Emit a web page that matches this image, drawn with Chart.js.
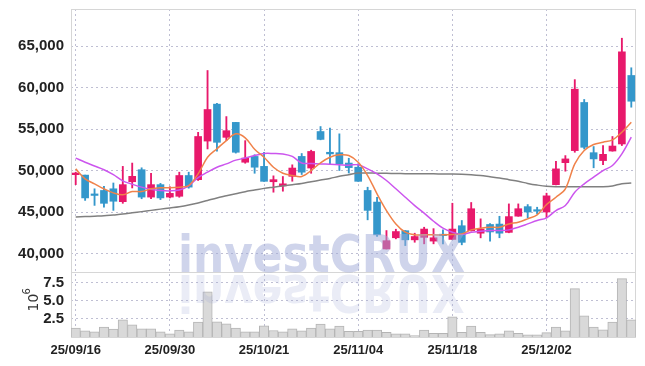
<!DOCTYPE html>
<html lang="en">
<head>
<meta charset="utf-8" />
<title>investCRUX daily chart</title>
<script src="https://cdn.jsdelivr.net/npm/chart.js@4.4.1/dist/chart.umd.min.js"></script>
<style>
  html, body { margin: 0; padding: 0; background: #fff; }
</style>
</head>
<body>
<canvas id="myChart" width="645" height="366"></canvas>

<script>
	var dates = [
		"25/09/16", "25/09/17", "25/09/18", "25/09/19", "25/09/22", "25/09/23", "25/09/24", "25/09/25", "25/09/26", "25/09/29",
		"25/09/30", "25/10/01", "25/10/02", "25/10/10", "25/10/13", "25/10/14", "25/10/15", "25/10/16", "25/10/17", "25/10/20",
		"25/10/21", "25/10/22", "25/10/23", "25/10/24", "25/10/27", "25/10/28", "25/10/29", "25/10/30", "25/10/31", "25/11/03",
		"25/11/04", "25/11/05", "25/11/06", "25/11/07", "25/11/10", "25/11/11", "25/11/12", "25/11/13", "25/11/14", "25/11/17",
		"25/11/18", "25/11/19", "25/11/20", "25/11/21", "25/11/24", "25/11/25", "25/11/26", "25/11/27", "25/11/28", "25/12/01",
		"25/12/02", "25/12/03", "25/12/04", "25/12/05", "25/12/08", "25/12/09", "25/12/10", "25/12/11", "25/12/12", "25/12/15"
	];

	var openP = [
		49500, 49450, 47100, 47600, 47800, 46250, 48650, 50100, 46800, 48300,
		46800, 46900, 49400, 48900, 53550, 58000, 54000, 55800, 51000, 51700,
		50500, 48650, 48150, 49300, 51700, 50300, 54700, 52200, 52150, 50900,
		50400, 47600, 46200, 40550, 41900, 42750, 41650, 41950, 41500, 42250,
		41700, 43350, 42750, 42450, 43500, 43550, 42550, 44500, 45650, 45200,
		45000, 48300, 50950, 52400, 58200, 52150, 51200, 52350, 53200, 61450
	];
	var highP = [
		49800, 49450, 47800, 48100, 48500, 50500, 50900, 50330, 49650, 48450,
		48050, 49800, 49800, 54600, 62050, 58100, 56500, 55800, 53600, 51900,
		52200, 49360, 49280, 50690, 52050, 52450, 55300, 55100, 54420, 51480,
		50810, 47990, 46780, 42770, 42930, 42770, 42450, 43170, 43000, 42850,
		46060, 43980, 46150, 44180, 43600, 44490, 45980, 45980, 45900, 45580,
		47270, 51120, 51800, 60950, 58560, 52890, 53010, 54100, 65940, 62380
	];
	var lowP = [
		48300, 46400, 45800, 45600, 45200, 46050, 47900, 46600, 46600, 46500,
		46700, 46780, 47870, 48800, 52600, 52330, 53600, 52100, 50880, 49670,
		48680, 47390, 47510, 48710, 49520, 49670, 53700, 50720, 50000, 49700,
		48700, 44060, 42050, 40550, 41770, 40960, 41360, 41170, 41170, 41170,
		41690, 41050, 42700, 41890, 41480, 41900, 42500, 44490, 44300, 44780,
		44300, 48280, 49920, 52200, 52600, 50330, 50720, 52330, 53010, 57630
	];
	var closeP = [
		49700, 46700, 47000, 46050, 46300, 48300, 49300, 46800, 48300, 46700,
		47250, 49400, 48000, 54100, 57350, 53400, 54800, 52200, 51500, 50400,
		48700, 48900, 48400, 50300, 49800, 52300, 53750, 52000, 50800, 50350,
		48700, 45200, 42250, 41550, 42650, 41650, 42050, 42950, 41900, 42150,
		42950, 41350, 45400, 42950, 42600, 42450, 44450, 45400, 45000, 45100,
		46950, 50200, 51400, 59800, 52800, 51400, 51950, 52950, 64300, 58350
	];

	// moving averages
	var ma5 = [
		50200, 49000, 48400, 47800, 47310, 47070, 47470, 47470, 47800, 47920,
		47920, 47990, 48190, 49600, 51600, 52620, 53610, 54420, 53940, 52560,
		51600, 50400, 49670, 49400, 49280, 50000, 50930, 51600, 51890, 51810,
		51000, 49400, 47190, 45180, 43570, 42570, 42250, 42250, 42250, 42250,
		42290, 42370, 42850, 43050, 43170, 43170, 43570, 43770, 44180, 44660,
		45900, 46780, 47800, 50810, 52410, 53130, 53410, 53700, 54620, 55820
	];
	var ma20 = [
		51500, 51000, 50550, 50100, 49500, 48750, 48350, 48000, 47750, 47600,
		47550, 47650, 48150, 49150, 49800, 50400, 50800, 51250, 51500, 51800,
		52050, 52050, 52000, 51700, 50900, 50850, 50800, 50750, 50700, 50650,
		50690, 50200, 49600, 48800, 47800, 46780, 45780, 44860, 43890, 43050,
		42570, 42290, 42570, 42690, 42770, 42770, 42850, 43170, 43570, 43980,
		44300, 45180, 45780, 47390, 48400, 49200, 50000, 50600, 52000, 54020
	];
	var ma60 = [
		44400, 44450, 44500, 44550, 44650, 44750, 44900, 45050, 45200, 45350,
		45500, 45650, 45850, 46100, 46400, 46700, 46950, 47200, 47450, 47650,
		47850, 48000, 48150, 48300, 48450, 48650, 48850, 49050, 49300, 49500,
		49700, 49700, 49680, 49660, 49640, 49620, 49600, 49600, 49600, 49580,
		49580, 49560, 49500, 49400, 49250, 49100, 48900, 48700, 48450, 48250,
		48100, 48050, 48050, 48050, 48050, 48050, 48050, 48150, 48400, 48500
	];

	// volume in millions of shares
	var volume = [
		1.23, 0.86, 0.72, 1.37, 1.09, 2.36, 1.68, 1.13, 1.13, 0.72,
		0.45, 0.96, 0.72, 2.05, 6.23, 2.09, 1.82, 1.23, 0.72, 0.72,
		1.54, 0.90, 0.72, 1.13, 0.86, 1.23, 1.77, 1.13, 1.50, 0.77,
		0.77, 0.96, 0.96, 0.63, 0.45, 0.45, 0.18, 0.96, 0.50, 0.50,
		2.77, 0.63, 1.50, 0.63, 0.32, 0.45, 0.86, 0.50, 0.30, 0.30,
		0.60, 1.37, 0.86, 6.69, 2.91, 1.37, 1.00, 2.05, 8.06, 2.36
	];

	var priceTicks = [40000, 45000, 50000, 55000, 60000, 65000];
	var volumeTicks = [2.5, 5.0, 7.5];

	var upColor = "#e8196b";
	var downColor = "#3497cb";
	var gridColor = "rgba(175, 175, 200, 0.8)";
	var frameColor = "#d6d6d6";
	var yFont = { family: "'Liberation Sans', Arial, sans-serif", size: 15, weight: "bold" };
	var xFont = { family: "'Liberation Sans', Arial, sans-serif", size: 13, weight: "bold" };

	var bodies = [];
	var wicks = [];
	var candleColors = [];
	for (var i = 0; i < dates.length; i++) {
		bodies.push([openP[i], closeP[i]]);
		wicks.push([lowP[i], highP[i]]);
		candleColors.push(closeP[i] >= openP[i] ? upColor : downColor);
	}

	function noPad(s) {
		s.width = 71;
		s.paddingTop = 0;
		s.paddingBottom = 0;
	}

	// light frame round both panels
	var framePlugin = {
		id: "frame",
		beforeDatasetsDraw: function (chart) {
			var ctx = chart.ctx;
			var a = chart.chartArea;
			var yP = chart.scales.y;
			ctx.save();
			ctx.strokeStyle = frameColor;
			ctx.lineWidth = 1;
			ctx.strokeRect(Math.round(a.left) + 0.5, Math.round(a.top) + 0.5, Math.round(a.right - a.left) - 1, Math.round(a.bottom - a.top));
			ctx.beginPath();
			ctx.moveTo(a.left, Math.round(yP.bottom) + 0.5);
			ctx.lineTo(a.right, Math.round(yP.bottom) + 0.5);
			ctx.stroke();
			ctx.restore();
		}
	};

	var watermark = {
		id: "watermark",
		afterDatasetsDraw: function (chart) {
			var ctx = chart.ctx;
			var text = "investCRUX";
			var base = chart.scales.y.bottom;
			ctx.save();
			ctx.font = "bold 52px 'DejaVu Sans'";
			var sx = 287 / ctx.measureText(text).width;
			ctx.translate(178, base);
			ctx.scale(sx, 1);
			ctx.fillStyle = "rgba(160, 170, 215, 0.5)";
			ctx.fillText(text, 0, 0);
			ctx.scale(1, -1);
			ctx.fillStyle = "rgba(160, 170, 215, 0.22)";
			ctx.fillText(text, 0, -3);
			ctx.restore();
		},
		afterDraw: function (chart) {
			var ctx = chart.ctx;
			var yV = chart.scales.yVol;
			ctx.save();
			ctx.translate(38, (yV.top + yV.bottom) / 2 - 2);
			ctx.rotate(-Math.PI / 2);
			ctx.fillStyle = "#333";
			ctx.textBaseline = "alphabetic";
			ctx.textAlign = "left";
			ctx.font = "14px 'DejaVu Sans'";
			ctx.fillText("10", -9, 0);
			ctx.font = "10px 'DejaVu Sans'";
			ctx.fillText("6", 8, -8);
			ctx.restore();
		}
	};

	var ctx = document.getElementById("myChart").getContext("2d");
	var myChart = new Chart(ctx, {
		type: "bar",
		data: {
			labels: dates,
			datasets: [
				{
					type: "line",
					label: "MA5",
					data: ma5,
					yAxisID: "y",
					borderColor: "#f0824a",
					borderWidth: 1.5,
					pointRadius: 0,
					tension: 0.35,
					order: 0
				},
				{
					type: "line",
					label: "MA20",
					data: ma20,
					yAxisID: "y",
					borderColor: "#cc55ee",
					borderWidth: 1.5,
					pointRadius: 0,
					tension: 0.35,
					order: 1
				},
				{
					type: "line",
					label: "MA60",
					data: ma60,
					yAxisID: "y",
					borderColor: "#808080",
					borderWidth: 1.5,
					pointRadius: 0,
					tension: 0.35,
					order: 2
				},
				{
					label: "body",
					data: bodies,
					yAxisID: "y",
					backgroundColor: candleColors,
					barThickness: 7,
					minBarLength: 1.5,
					grouped: false,
					order: 3
				},
				{
					label: "wick",
					data: wicks,
					yAxisID: "y",
					backgroundColor: candleColors,
					barThickness: 1.2,
					grouped: false,
					order: 4
				},
				{
					label: "volume",
					data: volume,
					yAxisID: "yVol",
					backgroundColor: "#d9d9d9",
					borderColor: "#b5b5b5",
					borderWidth: 1,
					barPercentage: 1,
					categoryPercentage: 1,
					grouped: false,
					order: 5
				}
			]
		},
		options: {
			responsive: false,
			animation: false,
			layout: { padding: { top: 9, right: 9, left: 0, bottom: 0 } },
			plugins: {
				legend: { display: false },
				tooltip: { enabled: false }
			},
			scales: {
				x: {
					offset: true,
					grid: { offset: false, color: gridColor, drawTicks: false },
					border: { display: false, dash: [2, 3] },
					ticks: { autoSkip: false, maxRotation: 0, padding: 6, color: "#222", font: xFont },
					afterBuildTicks: function (s) {
						s.ticks = s.ticks.filter(function (t, i) { return i % 10 === 0; });
					},
					afterFit: function (s) {
						s.height = 29;
						s.paddingLeft = 0;
						s.paddingRight = 0;
					}
				},
				yVol: {
					position: "left",
					stack: "panels",
					stackWeight: 1,
					min: 0,
					max: 8.97,
					grid: { color: gridColor, drawTicks: false },
					border: { display: false, dash: [2, 3] },
					ticks: {
						autoSkip: false,
						padding: 7,
						color: "#222",
						font: yFont,
						callback: function (v) { return v.toFixed(1); }
					},
					afterBuildTicks: function (s) {
						s.ticks = volumeTicks.map(function (v) { return { value: v }; });
					},
					afterFit: noPad
				},
				y: {
					position: "left",
					stack: "panels",
					stackWeight: 4.05,
					min: 37770,
					max: 69460,
					grid: { color: gridColor, drawTicks: false },
					border: { display: false, dash: [2, 3] },
					ticks: {
						autoSkip: false,
						padding: 7,
						color: "#222",
						font: yFont,
						callback: function (v) { return v.toLocaleString("en-US"); }
					},
					afterBuildTicks: function (s) {
						s.ticks = priceTicks.map(function (v) { return { value: v }; });
					},
					afterFit: noPad
				}
			}
		},
		plugins: [framePlugin, watermark]
	});
</script>
</body>
</html>
